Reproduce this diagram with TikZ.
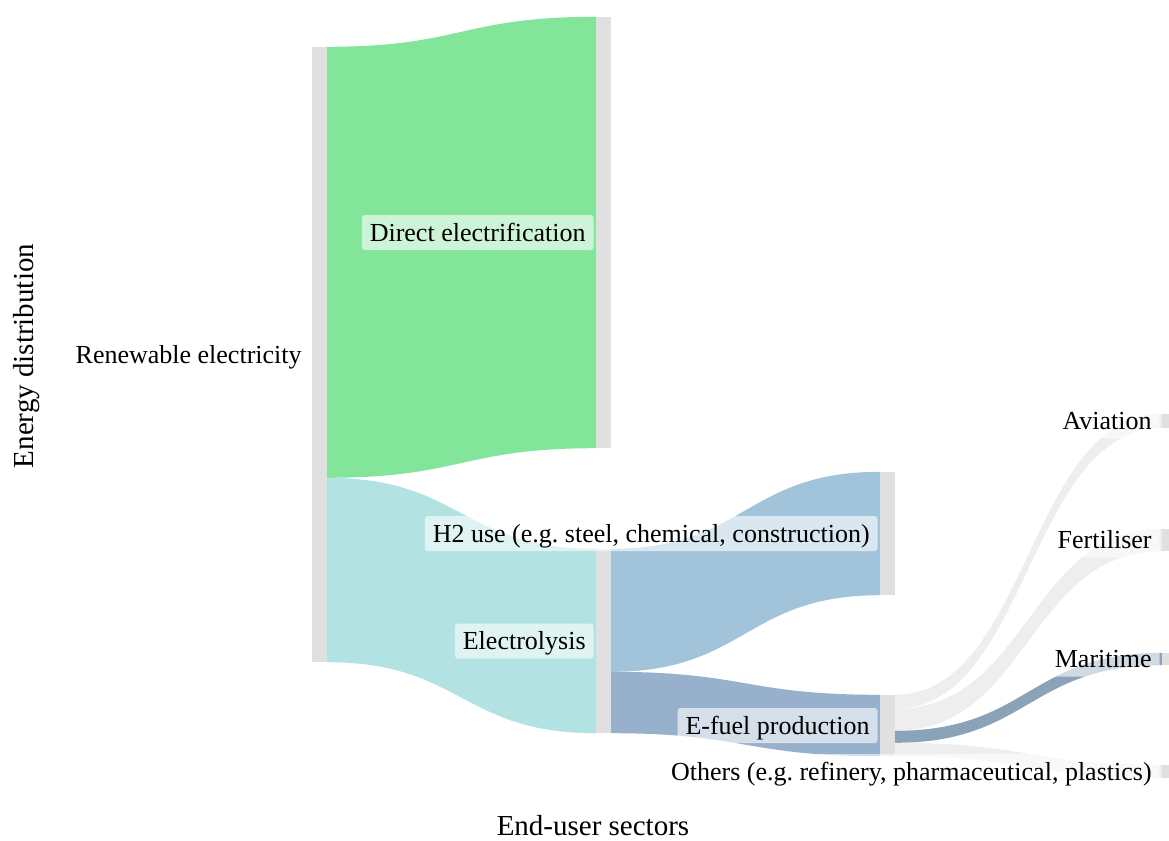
\documentclass[tikz,border=0pt]{standalone}
\usepackage{fontspec}
\setmainfont{Liberation Serif}
\usepackage{xcolor}
\usepackage{tikz}
\usetikzlibrary{calc}
\definecolor{bargray}{HTML}{E0E0E0}
\definecolor{elecgreen}{HTML}{82E59A}
\definecolor{lysisteal}{HTML}{B3E2E3}
\definecolor{htwoblue}{HTML}{A1C4DA}
\definecolor{fuelblue}{HTML}{97B0CB}
\definecolor{seablue}{HTML}{8AA3B8}
\definecolor{flowgray}{HTML}{EEEEEE}
\tikzstyle{nodebar} = [rectangle, fill=bargray, minimum width=15pt, inner sep=0pt]
\tikzstyle{lbl} = [rectangle, anchor=east, fill=white, fill opacity=0.6, text opacity=1, rounded corners=3pt, inner xsep=8pt, inner ysep=6pt, text height=20pt, text depth=3pt, font=\fontsize{26}{30}\selectfont]
\tikzstyle{axistitle} = [font=\fontsize{29}{34}\selectfont]
\newcommand{\flow}[5]{\fill[#1] let \p1=#2, \p2=#3, \p3=#4, \p4=#5 in (\p1) .. controls ({(\x1+\x3)/2},\y1) and ({(\x1+\x3)/2},\y3) .. (\p3) -- (\p4) .. controls ({(\x1+\x3)/2},\y4) and ({(\x1+\x3)/2},\y2) .. (\p2) -- cycle;}
\frenchspacing

\begin{document}
\begin{tikzpicture}[x=1pt, y=-1pt]
   \useasboundingbox (0,0) rectangle (1169,840);
   \node (ren) [nodebar, minimum height=615pt] at (319.5,354.5) {};
   \node (dir) [nodebar, minimum height=431pt] at (603.5,232.5) {};
   \node (ely) [nodebar, minimum height=184pt] at (603.5,641) {};
   \node (h2u) [nodebar, minimum height=123pt] at (887.5,533.5) {};
   \node (efu) [nodebar, minimum height=61pt] at (887.5,725.5) {};
   \node (avi) [nodebar, minimum height=14pt] at (1169.5,421) {};
   \node (fer) [nodebar, minimum height=22pt] at (1169.5,540) {};
   \node (mar) [nodebar, minimum height=12pt] at (1169.5,659) {};
   \node (oth) [nodebar, minimum height=13pt] at (1169.5,771.5) {};
   \flow{elecgreen}{(ren.north east)}{([yshift=-431pt]ren.north east)}{(dir.north west)}{(dir.south west)}
   \flow{lysisteal}{([yshift=-431pt]ren.north east)}{(ren.south east)}{(ely.north west)}{(ely.south west)}
   \flow{htwoblue}{(ely.north east)}{([yshift=-123pt]ely.north east)}{(h2u.north west)}{(h2u.south west)}
   \flow{fuelblue}{([yshift=-123pt]ely.north east)}{(ely.south east)}{(efu.north west)}{(efu.south west)}
   \flow{flowgray}{(efu.north east)}{([yshift=-14pt]efu.north east)}{(avi.north west)}{(avi.south west)}
   \flow{flowgray}{([yshift=-14pt]efu.north east)}{([yshift=-36pt]efu.north east)}{(fer.north west)}{(fer.south west)}
   \flow{seablue}{([yshift=-36pt]efu.north east)}{([yshift=-48pt]efu.north east)}{(mar.north west)}{(mar.south west)}
   \flow{flowgray}{([yshift=-48pt]efu.north east)}{(efu.south east)}{(oth.north west)}{(oth.south west)}
   \node (renl) [lbl] at ([xshift=-2pt]ren.west) {Renewable electricity};
   \node (dirl) [lbl] at ([xshift=-2pt]dir.west) {Direct electrification};
   \node (elyl) [lbl] at ([xshift=-2pt]ely.west) {Electrolysis};
   \node (h2ul) [lbl] at ([xshift=-2pt]h2u.west) {H2 use (e.g. steel, chemical, construction)};
   \node (eful) [lbl] at ([xshift=-2pt]efu.west) {E-fuel production};
   \node (avil) [lbl] at ([xshift=-2pt]avi.west) {Aviation};
   \node (ferl) [lbl] at ([xshift=-2pt]fer.west) {Fertiliser};
   \node (marl) [lbl] at ([xshift=-2pt]mar.west) {Maritime};
   \node (othl) [lbl] at ([xshift=-2pt]oth.west) {Others (e.g. refinery, pharmaceutical, plastics)};
   \node (ytitle) [axistitle, rotate=90] at (27,356) {Energy distribution};
   \node (xtitle) [axistitle] at (593,826) {End-user sectors};
\end{tikzpicture}
\end{document}
